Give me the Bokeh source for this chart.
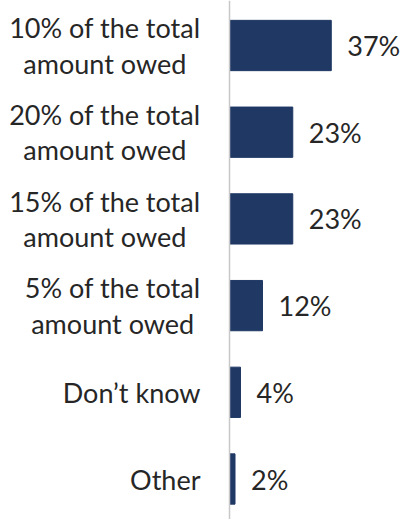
from bokeh.plotting import figure
from bokeh.models import ColumnDataSource, Range1d, Span
from bokeh.core.properties import value
from bokeh.embed import file_html
from bokeh.resources import INLINE

categories = [
    "10% of the total\namount owed",
    "20% of the total\namount owed",
    "15% of the total\namount owed",
    "5% of the total\namount owed",
    "Don\u2019t know",
    "Other",
]
values = [37, 23, 23, 12, 4, 2]
value_labels = ["37%", "23%", "23%", "12%", "4%", "2%"]

FONT = "Lato"
BAR = "#1F3864"
TXT = "#262626"

pos = list(range(len(categories)))
src = ColumnDataSource(dict(y=pos, v=values, lab=value_labels, cat=categories,
                            zero=[0] * len(pos)))

p = figure(width=402, height=519, output_backend="svg", toolbar_location=None,
           x_range=Range1d(-83.27, 62.9), y_range=Range1d(5.467, -0.519),
           min_border=0, outline_line_color=None)
p.axis.visible = False
p.grid.visible = False
p.background_fill_color = "white"
p.border_fill_color = "white"

p.hbar(y="y", right="v", left=0, height=0.58, source=src,
       fill_color=BAR, line_color=BAR, line_width=1)

p.add_layout(Span(location=0, dimension="height", line_color="#C8C8C8", line_width=1.5))

p.text(x="v", y="y", text="lab", source=src, x_offset=16,
       text_align="left", text_baseline="middle",
       text_font=value(FONT), text_font_size="27px", text_color=TXT)

p.text(x="zero", y="y", text="cat", source=src, x_offset=-29,
       anchor="center_right", text_align="center", text_baseline="middle",
       text_line_height=1.07,
       text_font=value(FONT), text_font_size="27px", text_color=TXT)

open("out.html", "w").write(file_html(p, INLINE))
